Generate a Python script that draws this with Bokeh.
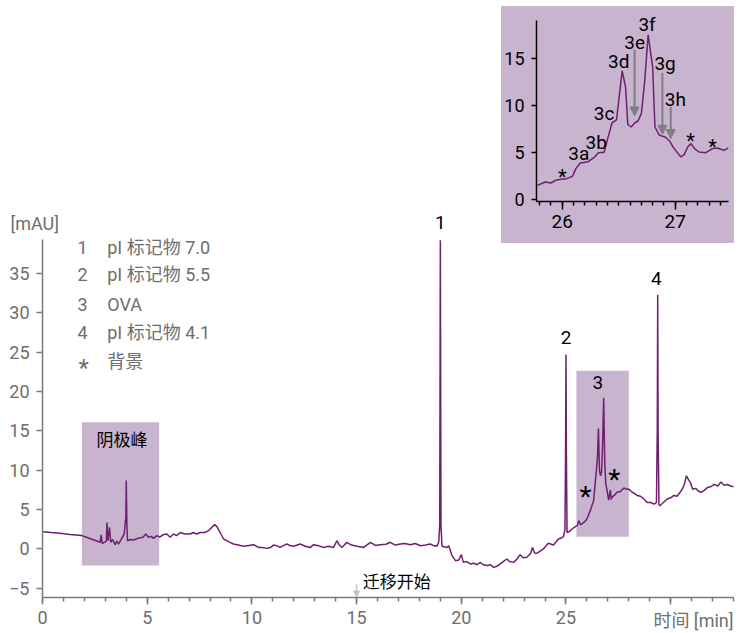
from bokeh.plotting import figure
from bokeh.models import (Range1d, SingleIntervalTicker, Arrow, NormalHead,
                          ColumnDataSource, LinearAxis)
from bokeh.layouts import column
from bokeh.embed import file_html
from bokeh.resources import INLINE
from bokeh.core.properties import value

# ---------------- data ----------------
time_min = [0.00, 0.40, 0.84, 1.30, 1.88, 2.30, 2.75, 2.80, 2.85, 3.05, 3.08, 3.13, 3.20, 3.26,
            3.35, 3.47, 3.55, 3.63, 3.75, 3.90, 3.98, 4.00, 4.03, 4.06, 4.20, 4.35, 4.60, 4.80,
            4.94, 5.06, 5.20, 5.30, 5.46, 5.60, 5.75, 5.94, 6.10, 6.25, 6.40, 6.58, 6.80, 7.05,
            7.20, 7.35, 7.53, 7.75, 7.93, 8.10, 8.22, 8.33, 8.50, 8.65, 8.90, 9.12, 9.35, 9.60,
            9.85, 10.08, 10.32, 10.50, 10.72, 10.90, 11.03, 11.20, 11.35, 11.67, 11.85, 11.99,
            12.31, 12.55, 12.79, 12.95, 13.20, 13.43, 13.65, 13.90, 14.06, 14.18, 14.30, 14.54,
            14.75, 15.02, 15.34, 15.66, 15.90, 16.13, 16.40, 16.61, 16.85, 17.09, 17.30, 17.57,
            17.80, 18.05, 18.30, 18.52, 18.70, 18.84, 18.92, 18.97, 19.00, 19.03, 19.08, 19.32,
            19.40, 19.56, 19.72, 19.88, 20.00, 20.10, 20.25, 20.43, 20.60, 20.75, 20.90, 21.05,
            21.22, 21.40, 21.54, 21.70, 21.86, 22.00, 22.18, 22.30, 22.50, 22.65, 22.81, 22.95,
            23.13, 23.30, 23.40, 23.50, 23.60, 23.75, 23.92, 24.05, 24.16, 24.30, 24.40, 24.52,
            24.64, 24.78, 24.88, 24.95, 24.98, 25.00, 25.02, 25.05, 25.15, 25.29, 25.45, 25.55,
            25.61, 25.70, 25.77, 25.90, 26.00, 26.16, 26.32, 26.45, 26.50, 26.55, 26.60, 26.65,
            26.70, 26.75, 26.80, 26.85, 26.90, 26.95, 27.04, 27.12, 27.16, 27.20, 27.30, 27.44,
            27.60, 27.76, 27.90, 28.00, 28.12, 28.24, 28.40, 28.56, 28.70, 28.88, 29.05, 29.20,
            29.32, 29.36, 29.38, 29.40, 29.44, 29.48, 29.65, 29.83, 30.00, 30.15, 30.30, 30.45,
            30.55, 30.65, 30.75, 30.85, 30.95, 31.05, 31.20, 31.30, 31.45, 31.60, 31.75, 31.90,
            32.08, 32.25, 32.40, 32.55, 32.71, 32.85, 33.03]
absorb_mau = [2.2, 2.1, 2.0, 1.85, 1.7, 1.3, 0.85, 1.8, 0.7, 1.0, 3.35, 1.05, 2.75, 0.85,
              1.2, 0.55, 1.0, 0.6, 1.2, 1.9, 4.0, 8.7, 3.0, 1.05, 1.2, 1.15, 1.4, 1.5,
              1.9, 1.5, 1.6, 1.35, 1.7, 1.5, 1.8, 1.9, 1.5, 1.9, 1.7, 2.1, 1.9, 1.9,
              2.1, 1.9, 2.1, 2.1, 2.33, 2.8, 3.1, 2.84, 2.0, 1.27, 0.9, 0.64, 0.5, 0.34,
              0.45, 0.55, 0.2, 0.2, 0.08, 0.2, 0.5, 0.4, 0.2, 0.64, 0.4, 0.34,
              0.64, 0.35, 0.2, 0.55, 0.4, 0.2, 0.35, 0.2, 1.05, 0.5, 0.2, 0.85,
              0.5, 0.34, 0.2, 0.85, 0.45, 0.55, 0.6, 0.85, 0.5, 0.64, 0.7, 0.55,
              0.7, 0.42, 0.5, 0.64, 0.4, 0.34, 0.85, 3.0, 39.2, 3.0, 0.34, 0.2,
              0.4, -0.85, -1.48, -1.4, -0.72, -1.7, -1.6, -1.9, -1.8, -2.0, -1.7, -2.0,
              -2.1, -2.0, -2.33, -2.2, -1.9, -1.6, -1.27, -1.6, -1.7, -1.3, -0.72, -1.1,
              -1.06, -0.6, 0.2, -0.5, -0.55, -0.3, 0.0, 0.4, 0.72, 0.6, 0.5, 0.9,
              1.27, 1.4, 1.57, 2.5, 12.0, 24.7, 12.0, 2.1, 2.2, 2.54, 2.84, 3.0,
              3.6, 3.1, 3.2, 3.5, 3.8, 4.87, 6.14, 9.9, 11.5, 15.3, 10.0, 9.3,
              9.8, 13.5, 19.2, 11.0, 8.3, 7.6, 6.2, 7.5, 6.3, 6.6, 6.8, 7.2,
              7.3, 7.75, 7.6, 7.6, 7.3, 7.1, 6.8, 6.7, 6.4, 5.9, 5.9, 5.7,
              5.9, 15.0, 32.3, 15.0, 5.6, 5.5, 5.9, 6.35, 6.5, 6.8, 6.7, 7.2,
              7.6, 8.2, 9.3, 8.8, 8.4, 7.6, 7.7, 7.4, 7.2, 7.45, 7.8, 7.9,
              8.2, 8.0, 8.5, 8.1, 8.2, 8.0, 7.9]

# highlighted regions (cathode peaks, OVA)
box_left = [1.88, 25.5]
box_right = [5.57, 28.0]
box_bottom = [-2.1, 1.56]
box_top = [16.1, 22.65]

peak_labels = ["1", "2", "3", "4"]
peak_label_x = [19.0, 25.0, 26.52, 29.32]
peak_label_y = [41.5, 26.9, 21.2, 34.4]

bg_star_x = [25.93, 27.31]
bg_star_y = [6.65, 8.8]

legend_keys = ["1", "2", "3", "4"]
legend_texts = ["pI 标记物 7.0", "pI 标记物 5.5", "OVA", "pI 标记物 4.1", "背景"]
legend_y = [38.33, 34.8, 31.1, 27.53, 23.85]
legend_star_y = [23.0]

# inset (zoom of OVA region)
inset_time = [25.78, 25.85, 25.90, 25.94, 25.99, 26.04, 26.09, 26.12, 26.16, 26.23, 26.28,
              26.32, 26.37, 26.39, 26.44, 26.48, 26.50, 26.53, 26.56, 26.58, 26.61, 26.64,
              26.67, 26.70, 26.73, 26.76, 26.80, 26.82, 26.86, 26.91, 26.95, 26.99, 27.05,
              27.08, 27.11, 27.14, 27.17, 27.21, 27.27, 27.33, 27.37, 27.43, 27.47]
inset_absorb = [1.52, 1.88, 1.77, 2.06, 2.16, 2.23, 2.48, 3.3, 3.9, 4.04, 4.47,
                5.0, 5.04, 5.96, 8.16, 8.5, 10.57, 13.7, 12.0, 8.0, 7.73, 8.16,
                8.37, 9.15, 12.7, 17.55, 14.1, 7.73, 6.84, 6.67, 6.24, 5.43, 4.54,
                4.82, 5.6, 5.96, 5.43, 5.07, 5.0, 5.43, 5.5, 5.25, 5.5]

inset_labels = ["3a", "3b", "3c", "3d", "3e", "3f", "3g", "3h"]
inset_label_x = [26.146, 26.30, 26.37, 26.50, 26.64, 26.75, 26.91, 27.00]
inset_label_y = [4.93, 6.13, 9.2, 14.75, 16.7, 18.65, 14.5, 10.67]
inset_star_x = [26.00, 27.135, 27.33]
inset_star_y = [2.44, 6.27, 5.63]

arrow_x = [26.64, 26.886, 26.96]
arrow_y_start = [15.96, 13.47, 9.86]
arrow_y_end = [8.9, 6.95, 6.5]

start_arrow_x = [15.0]
start_arrow_y_start = [-4.5]
start_arrow_y_end = [-6.1]

# ---------------- styles ----------------
FONT = "Roboto, 'Noto Sans CJK SC', sans-serif"
CJK = "'Noto Sans CJK SC', sans-serif"
PURPLE = "#6e1f6e"
BOX = "#c9b4d0"
GRAY = "#6e6e6e"
AXIS_GRAY = "#7a7a7a"

X0, X1 = 0.0, 33.0
Y0, Y1 = -6.16, 69.66

# ---------------- main figure ----------------
p = figure(width=745, height=633, x_range=Range1d(X0, X1), y_range=Range1d(Y0, Y1),
           output_backend="svg", toolbar_location=None, x_axis_type=None, y_axis_type=None,
           min_border_left=42, min_border_right=12, min_border_top=0, min_border_bottom=36,
           background_fill_color="white", border_fill_color="white", frame_align=False)
p.outline_line_color = None

xax = LinearAxis(ticker=SingleIntervalTicker(interval=5, num_minor_ticks=5))
xax.axis_line_color = AXIS_GRAY
xax.axis_line_width = 1.5
xax.major_tick_line_color = AXIS_GRAY
xax.minor_tick_line_color = AXIS_GRAY
xax.major_tick_line_width = 1.5
xax.minor_tick_line_width = 1.5
xax.major_tick_in = 0
xax.major_tick_out = 7
xax.minor_tick_in = 0
xax.minor_tick_out = 4
xax.major_label_standoff = 6
xax.major_label_text_font = FONT
xax.major_label_text_font_size = "18px"
xax.major_label_text_color = GRAY
xax.major_label_overrides = {30: ""}
p.add_layout(xax, "below")

yax = LinearAxis(ticker=SingleIntervalTicker(interval=5, num_minor_ticks=0), bounds=(Y0, 39.3))
yax.axis_line_color = AXIS_GRAY
yax.axis_line_width = 1.5
yax.major_tick_line_color = AXIS_GRAY
yax.major_tick_line_width = 1.5
yax.major_tick_in = 0
yax.major_tick_out = 6
yax.minor_tick_line_color = None
yax.major_label_standoff = 7
yax.major_label_text_font = FONT
yax.major_label_text_font_size = "18px"
yax.major_label_text_color = GRAY
p.add_layout(yax, "left")

p.quad(left=box_left, right=box_right, bottom=box_bottom, top=box_top,
       fill_color=BOX, line_color=None)
p.line(time_min, absorb_mau, line_color=PURPLE, line_width=1.5)

p.text(x=peak_label_x, y=peak_label_y, text=peak_labels, text_font=value(FONT),
       text_font_size="19px", text_color="black", text_align="center", text_baseline="middle")
p.text(x=bg_star_x, y=bg_star_y, text=["*"] * len(bg_star_x), text_font=value(FONT),
       text_font_size="28px", text_color="black", text_align="center", text_baseline="middle")

p.text(x=[2.16] * len(legend_keys), y=legend_y[:4], text=legend_keys, text_font=value(FONT),
       text_font_size="18px", text_color=GRAY, text_align="right", text_baseline="middle")
p.text(x=[1.97], y=legend_star_y, text=["*"], text_font=value(FONT),
       text_font_size="24px", text_color=GRAY, text_align="center", text_baseline="middle")
p.text(x=[3.09] * len(legend_texts), y=legend_y, text=legend_texts, text_font=value(FONT),
       text_font_size="18px", text_color=GRAY, text_align="left", text_baseline="middle")

p.text(x=[3.8], y=[14.0], text=["阴极峰"], text_font=value(CJK), text_font_size="17px",
       text_color="black", text_align="center", text_baseline="middle")
p.text(x=[15.3], y=[-4.0], text=["迁移开始"], text_font=value(CJK), text_font_size="17px",
       text_color="black", text_align="left", text_baseline="middle")
p.add_layout(Arrow(x_start=start_arrow_x[0], y_start=start_arrow_y_start[0],
                   x_end=start_arrow_x[0], y_end=start_arrow_y_end[0],
                   line_color="#c4c4c4", line_width=1.5,
                   end=NormalHead(size=6, fill_color="#c4c4c4", line_color="#c4c4c4")))

# ---------------- overlay for texts outside the main frame ----------------
px_x = (X1 - X0) / (745 - 42 - 12)
px_y = (Y1 - Y0) / (633 - 36)
ov = figure(width=745, height=633,
            x_range=Range1d(X0 - 42 * px_x, X1 + 12 * px_x),
            y_range=Range1d(Y0 - 36 * px_y, Y1),
            output_backend="svg", toolbar_location=None, x_axis_type=None, y_axis_type=None,
            min_border=0, background_fill_color=None, border_fill_color=None, frame_align=False,
            styles={"position": "absolute", "left": "0px", "top": "0px", "pointer-events": "none"})
ov.outline_line_color = None
ov.text(x=[-1.53], y=[41.3], text=["[mAU]"], text_font=value(FONT), text_font_size="18px",
        text_color=GRAY, text_align="left", text_baseline="middle")
ov.text(x=[33.0], y=[-9.08], text=["时间 [min]"], text_font=value(FONT), text_font_size="18px",
        text_color=GRAY, text_align="right", text_baseline="middle")

# ---------------- inset figure ----------------
IY1 = 19.07 + 14 / 9.39
ins = figure(width=233, height=237, x_range=Range1d(25.772, 27.471), y_range=Range1d(-0.2, IY1),
             output_backend="svg", toolbar_location=None, x_axis_type=None, y_axis_type=None,
             min_border_left=33, min_border_right=6, min_border_top=0, min_border_bottom=42,
             background_fill_color=None, border_fill_color=None, frame_align=False,
             styles={"position": "absolute", "left": "501px", "top": "6px",
                     "background-color": BOX})
ins.outline_line_color = None

ixax = LinearAxis(ticker=SingleIntervalTicker(interval=1, num_minor_ticks=10))
ixax.axis_line_color = "black"
ixax.axis_line_width = 1.5
ixax.major_tick_line_color = "black"
ixax.minor_tick_line_color = "black"
ixax.major_tick_line_width = 1.5
ixax.minor_tick_line_width = 1.5
ixax.major_tick_in = 0
ixax.major_tick_out = 8
ixax.minor_tick_in = 0
ixax.minor_tick_out = 4
ixax.major_label_standoff = 5
ixax.major_label_text_font = FONT
ixax.major_label_text_font_size = "19px"
ixax.major_label_text_color = "black"
ins.add_layout(ixax, "below")

iyax = LinearAxis(ticker=SingleIntervalTicker(interval=5, num_minor_ticks=0), bounds=(-0.2, 19.07))
iyax.axis_line_color = "black"
iyax.axis_line_width = 1.5
iyax.major_tick_line_color = "black"
iyax.major_tick_line_width = 1.5
iyax.major_tick_in = 0
iyax.major_tick_out = 5
iyax.minor_tick_line_color = None
iyax.major_label_standoff = 7
iyax.major_label_text_font = FONT
iyax.major_label_text_font_size = "18px"
iyax.major_label_text_color = "black"
ins.add_layout(iyax, "left")

ins.line(inset_time, inset_absorb, line_color=PURPLE, line_width=1.5)
ins.text(x=inset_label_x, y=inset_label_y, text=inset_labels, text_font=value(FONT),
         text_font_size="19px", text_color="black", text_align="center", text_baseline="middle")
ins.text(x=inset_star_x, y=inset_star_y, text=["*"] * len(inset_star_x), text_font=value(FONT),
         text_font_size="20px", text_color="black", text_align="center", text_baseline="middle")

arrow_src = ColumnDataSource(dict(x0=arrow_x, y0=arrow_y_start, x1=arrow_x, y1=arrow_y_end))
ins.add_layout(Arrow(source=arrow_src, x_start="x0", y_start="y0", x_end="x1", y_end="y1",
                     line_color="#7f7f7f", line_width=2,
                     end=NormalHead(size=9, fill_color="#7f7f7f", line_color="#7f7f7f")))

layout = column(p, ins, ov, styles={"position": "relative"})

open("out.html", "w").write(file_html(layout, INLINE))
